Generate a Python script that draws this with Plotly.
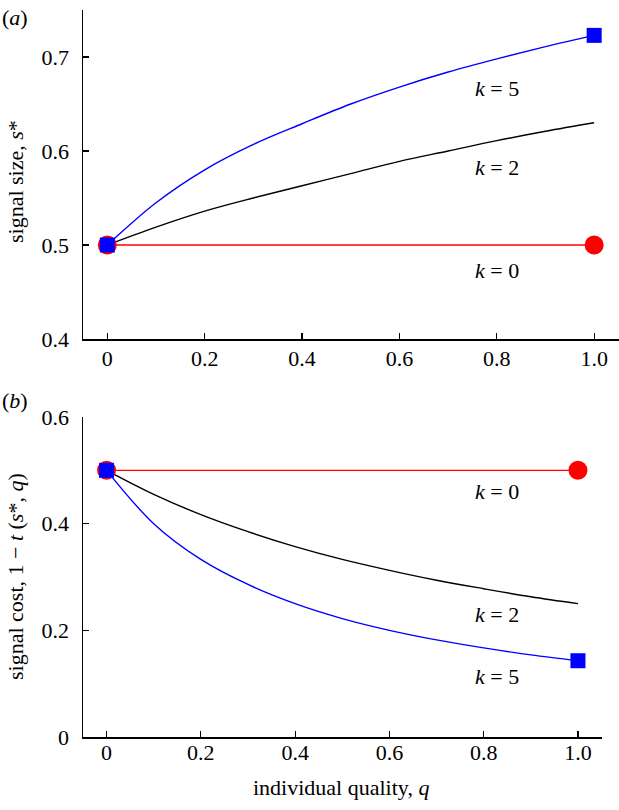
import plotly.graph_objects as go

# ---- data ----
q = [0.0, 0.1, 0.2, 0.3, 0.4, 0.5, 0.6, 0.7, 0.8, 0.9, 1.0]

size_k0 = [0.5] * 11
size_k2 = [0.5, 0.519, 0.536, 0.550, 0.563, 0.576, 0.589, 0.600, 0.611, 0.621, 0.630]
size_k5 = [0.5, 0.545, 0.580, 0.607, 0.629, 0.650, 0.668, 0.684, 0.698, 0.711, 0.723]

cost_k0 = [0.5] * 11
cost_k2 = [0.5, 0.455, 0.417, 0.385, 0.357, 0.333, 0.3125, 0.294, 0.278, 0.263, 0.25]
cost_k5 = [0.5, 0.400, 0.333, 0.286, 0.250, 0.222, 0.200, 0.182, 0.167, 0.154, 0.143]

x_ticks = [0, 0.2, 0.4, 0.6, 0.8, 1.0]
x_ticktext = ["0", "0.2", "0.4", "0.6", "0.8", "1.0"]
ya_ticks = [0.4, 0.5, 0.6, 0.7]
ya_ticktext = ["0.4", "0.5", "0.6", "0.7"]
yb_ticks = [0, 0.2, 0.4, 0.6]
yb_ticktext = ["0", "0.2", "0.4", "0.6"]

W, H = 619, 810
FONT = "'Liberation Serif', Tinos, 'Times New Roman', 'Nimbus Roman', FreeSerif, 'DejaVu Serif', serif"
FS = 22
RED = "#ff0000"
BLUE = "#0000ff"

def px(x):
    return x / W

def py(y):
    return 1 - y / H

fig = go.Figure()

def add_panel(xa, ya, k0, k2, k5):
    fig.add_trace(go.Scatter(x=q, y=k0, xaxis=xa, yaxis=ya, mode="lines",
                             line=dict(color=RED, width=1.4), showlegend=False))
    fig.add_trace(go.Scatter(x=q, y=k2, xaxis=xa, yaxis=ya, mode="lines",
                             line=dict(color="black", width=1.4, shape="spline"), showlegend=False))
    fig.add_trace(go.Scatter(x=q, y=k5, xaxis=xa, yaxis=ya, mode="lines",
                             line=dict(color=BLUE, width=1.4, shape="spline"), showlegend=False))
    fig.add_trace(go.Scatter(x=[q[0], q[-1]], y=[k0[0], k0[-1]], xaxis=xa, yaxis=ya,
                             mode="markers", marker=dict(symbol="circle", size=19, color=RED),
                             showlegend=False, cliponaxis=False))
    fig.add_trace(go.Scatter(x=[q[0], q[-1]], y=[k5[0], k5[-1]], xaxis=xa, yaxis=ya,
                             mode="markers", marker=dict(symbol="square", size=15, color=BLUE),
                             showlegend=False, cliponaxis=False))

add_panel("x", "y", size_k0, size_k2, size_k5)
add_panel("x2", "y2", cost_k0, cost_k2, cost_k5)

axis_common = dict(showline=True, linecolor="black", linewidth=1.5, ticks="inside",
                   ticklen=6, tickwidth=1.2, tickcolor="black", showgrid=False,
                   zeroline=False, automargin=False,
                   tickfont=dict(family=FONT, size=FS, color="black"))

fig.update_layout(
    template="none",
    width=W, height=H,
    margin=dict(l=0, r=0, t=0, b=0, pad=0),
    plot_bgcolor="white", paper_bgcolor="white",
    font=dict(family=FONT, size=FS, color="black"),
    hovermode=False,
    xaxis=dict(domain=[px(83), 1.0], range=[-0.05, 1.051], tickvals=x_ticks,
               ticktext=x_ticktext, anchor="y", ticklabelstandoff=-1, **axis_common),
    yaxis=dict(domain=[py(339), py(10)], range=[0.4, 0.75], tickvals=ya_ticks,
               ticktext=ya_ticktext, anchor="x", ticklabelstandoff=8, **axis_common),
    xaxis2=dict(domain=[px(83), px(602)], range=[-0.05, 1.051], tickvals=x_ticks,
                ticktext=x_ticktext, anchor="y2", ticklabelstandoff=-5, **axis_common),
    yaxis2=dict(domain=[py(737), py(417)], range=[0, 0.6], tickvals=yb_ticks,
                ticktext=yb_ticktext, anchor="x2", ticklabelstandoff=8, **axis_common),
)

def text_ann(x, y, text, xref="x", yref="y", **kw):
    kw.setdefault("xanchor", "center")
    kw.setdefault("yanchor", "middle")
    fig.add_annotation(x=x, y=y, xref=xref, yref=yref, text=text, showarrow=False,
                       font=dict(family=FONT, size=FS, color="black"), **kw)

# curve labels (data coordinates)
text_ann(0.80, 0.667, "<i>k</i> = 5")
text_ann(0.80, 0.582, "<i>k</i> = 2")
text_ann(0.80, 0.473, "<i>k</i> = 0")
text_ann(0.828, 0.46, "<i>k</i> = 0", xref="x2", yref="y2")
text_ann(0.828, 0.229, "<i>k</i> = 2", xref="x2", yref="y2")
text_ann(0.828, 0.113, "<i>k</i> = 5", xref="x2", yref="y2")

# panel labels
text_ann(0, py(17), "(<i>a</i>)", xref="paper", yref="paper", xanchor="left")
text_ann(0, py(400), "(<i>b</i>)", xref="paper", yref="paper", xanchor="left")

# axis titles
text_ann(px(15), py(182), "signal size, <i>s</i>*", xref="paper", yref="paper", textangle=-90)
text_ann(px(15), py(577), "signal cost, 1 \u2212 <i>t</i> (<i>s</i>*, <i>q</i>)",
         xref="paper", yref="paper", textangle=-90)
text_ann(px(341), py(787), "individual quality, <i>q</i>", xref="paper", yref="paper")

fig.write_html("out.html", config={"displayModeBar": False, "staticPlot": True},
               post_script="document.body.style.margin='0';document.body.style.padding='0';")
